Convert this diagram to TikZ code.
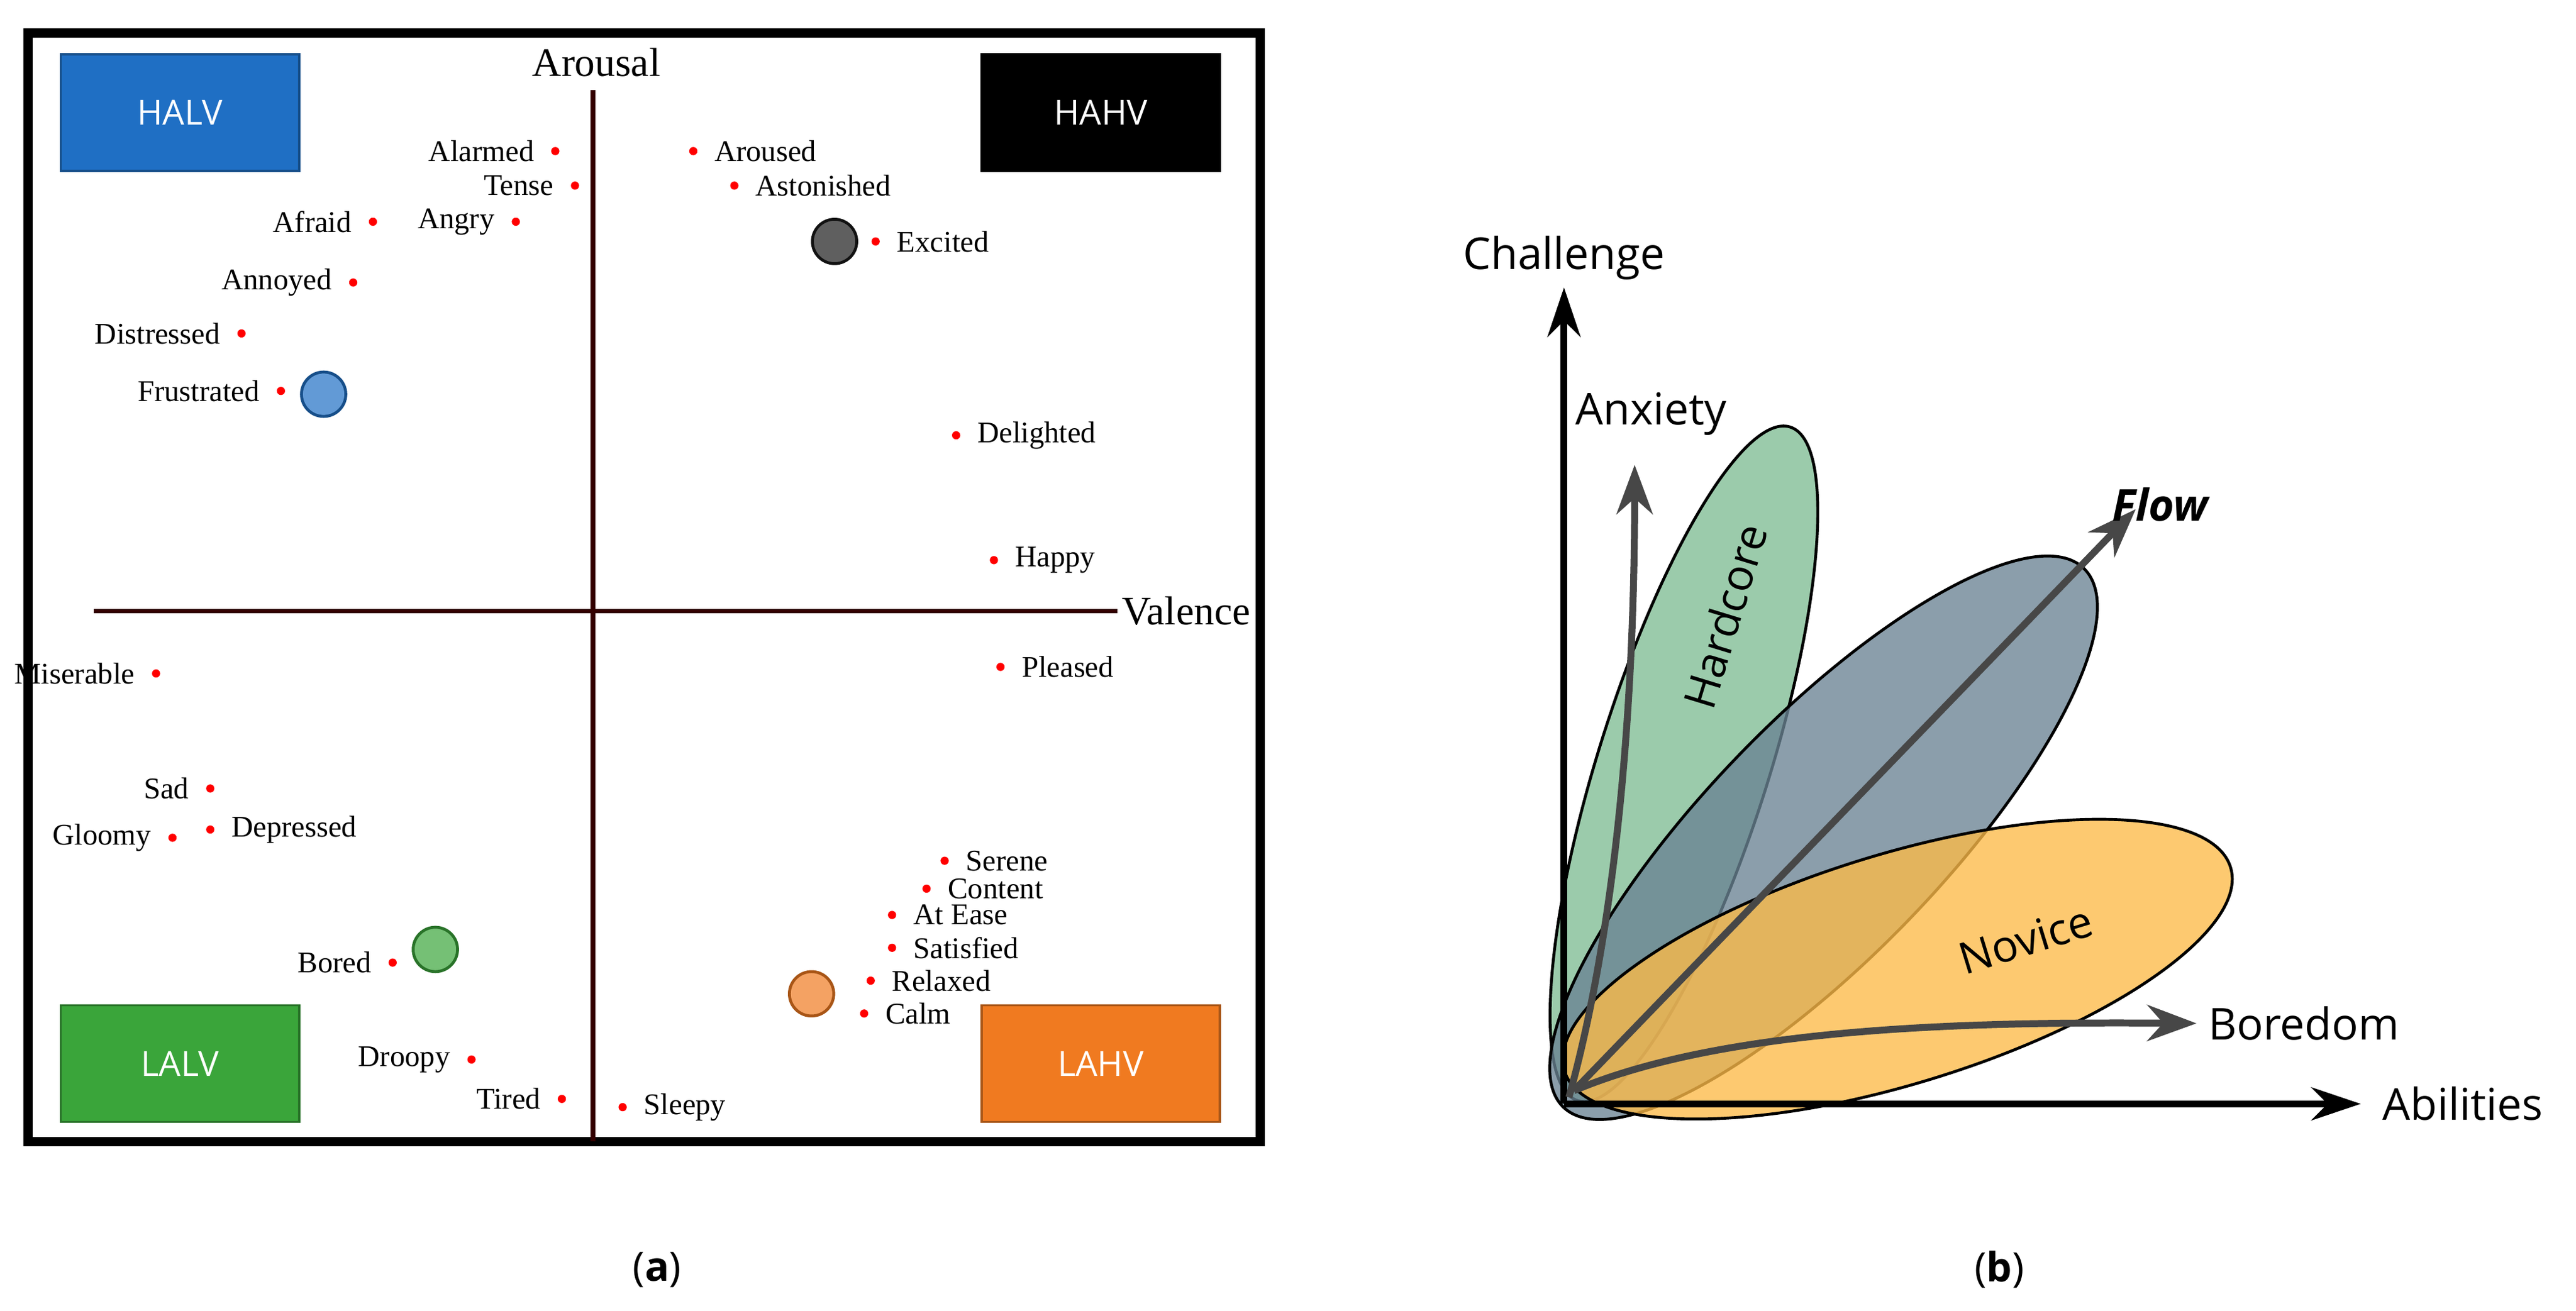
\documentclass[tikz,border=0pt]{standalone}
\usepackage{fontspec}
\setmainfont{Liberation Serif}
\newfontfamily\sansf{Open Sans}
\usetikzlibrary{arrows.meta}
\definecolor{halvc}{HTML}{1F6FC4}
\definecolor{lalvc}{HTML}{3AA53A}
\definecolor{lahvc}{HTML}{F07A20}
\definecolor{darkc}{HTML}{1A1A1A}
\definecolor{hardc}{HTML}{7FBC93}
\definecolor{flowc}{HTML}{6A8393}
\definecolor{novc}{HTML}{FDBA48}
\tikzset{
  quad/.style={draw=#1!70!black, fill=#1, minimum width=1.45cm, minimum height=0.71cm,
    text=white, font=\sansf\fontsize{6}{7}\selectfont},
  emo/.style={circle, fill=red, inner sep=0pt, minimum size=0.05cm},
  lbl/.style={font=\fontsize{5.2}{6}\selectfont, inner sep=1.5pt},
  blob/.style={circle, draw=#1!70!black, fill=#1!70, line width=0.5pt, minimum size=0.27cm, inner sep=0pt},
  trend/.style={-{Stealth[length=0.3cm,width=0.22cm]}, line width=1.2pt, draw=black!72},
  zone/.style={draw=black, line width=0.5pt, fill=#1, fill opacity=0.78},
}
\begin{document}
\begin{tikzpicture}[x=0.01cm,y=-0.01cm]
    \useasboundingbox (0,0) rectangle (1568,798);
    % panel (a)
    \draw[line width=1.6pt] (17,20) rectangle (767,695);
    \coordinate (vtop) at (361,55);
    \coordinate (vbot) at (361,695);
    \coordinate (hl) at (57,372);
    \coordinate (hr) at (680,372);
    \draw[line width=0.8pt, black!80!red] (vtop) -- (vbot);
    \draw[line width=0.8pt, black!80!red] (hl) -- (hr);
    \node[font=\fontsize{7}{8}\selectfont] (arousal) at (363,38) {Arousal};
    \node[font=\fontsize{7}{8}\selectfont] (valence) at (722,372) {Valence};
    \node[quad=halvc] (halv) at (109.5,68.5) {HALV};
    \node[quad=black] (hahv) at (670,68.5) {HAHV};
    \node[quad=lalvc] (lalv) at (109.5,647.5) {LALV};
    \node[quad=lahvc] (lahv) at (670,647.5) {LAHV};
    \foreach \x/\y/\t/\s [count=\i] in {338/92/Alarmed/left, 350/113/Tense/left, 227/135/Afraid/left,
        314/135/Angry/left, 215/172/Annoyed/left, 147/203/Distressed/left, 171/238/Frustrated/left,
        422/92/Aroused/right, 447/113/Astonished/right, 533/147/Excited/right, 582/265/Delighted/right,
        605/341/Happy/right, 609/406/Pleased/right, 95/410/Miserable/left, 128/480/Sad/left,
        105/510/Gloomy/left, 128/505/Depressed/right, 575/524/Serene/right, 564/541/Content/right,
        543/557/At Ease/right, 543/577/Satisfied/right, 530/597/Relaxed/right, 526/617/Calm/right,
        239/586/Bored/left, 287/645/Droopy/left, 342/669/Tired/left, 379/674/Sleepy/right}
    {
        \node[emo] (d\i) at (\x,\y) {};
        \node[lbl, \s=2pt] (t\i) at (d\i) {\t};
    }
    \node[blob=darkc] (hahvpt) at (508,147) {};
    \node[blob=halvc] (halvpt) at (197,240) {};
    \node[blob=lalvc] (lalvpt) at (265,578) {};
    \node[blob=lahvc] (lahvpt) at (494,605) {};
    \node[font=\sansf\fontsize{7}{8}\selectfont] (capa) at (400,773) {(\textbf{a})};
    % panel (b)
    \coordinate (o) at (952,672);
    \coordinate (ctop) at (952,175);
    \coordinate (aend) at (1437,672);
    \draw[zone=hardc] (1025,465) ellipse [x radius=215, y radius=52, rotate=72.5];
    \draw[zone=flowc] (1110,510) ellipse [x radius=228, y radius=72, rotate=46];
    \draw[zone=novc] (1155,590) ellipse [x radius=212, y radius=70, rotate=17];
    \draw[-{Stealth[length=0.3cm,width=0.2cm]}, line width=1.2pt] (o) -- (ctop);
    \draw[-{Stealth[length=0.3cm,width=0.2cm]}, line width=1.2pt] (o) -- (aend);
    \coordinate (anx) at (995,283);
    \coordinate (flw) at (1300,310);
    \coordinate (bor) at (1337,623);
    \draw[trend] (955,668) .. controls (985,560) and (995,420) .. (anx);
    \draw[trend] (958,664) -- (flw);
    \draw[trend] (958,664) .. controls (1050,625) and (1200,622) .. (bor);
    \node[font=\sansf\fontsize{7.6}{9}\selectfont] (chal) at (952,157) {Challenge};
    \node[font=\sansf\fontsize{7.6}{9}\selectfont, right, inner sep=1pt] (abil) at (1446,672) {Abilities};
    \node[font=\sansf\fontsize{7.6}{9}\selectfont] (anxl) at (1005,252) {Anxiety};
    \node[font=\sansf\bfseries\itshape\fontsize{7.6}{9}\selectfont] (flowl) at (1315,307) {Flow};
    \node[font=\sansf\fontsize{7.6}{9}\selectfont, right, inner sep=1pt] (borl) at (1340,623) {Boredom};
    \node[font=\sansf\fontsize{7.6}{9}\selectfont, rotate=73] (hardl) at (1050,375) {Hardcore};
    \node[font=\sansf\fontsize{7.6}{9}\selectfont, rotate=17] (novl) at (1233,572) {Novice};
    \node[font=\sansf\fontsize{7}{8}\selectfont] (capb) at (1217,773) {(\textbf{b})};
\end{tikzpicture}
\end{document}
